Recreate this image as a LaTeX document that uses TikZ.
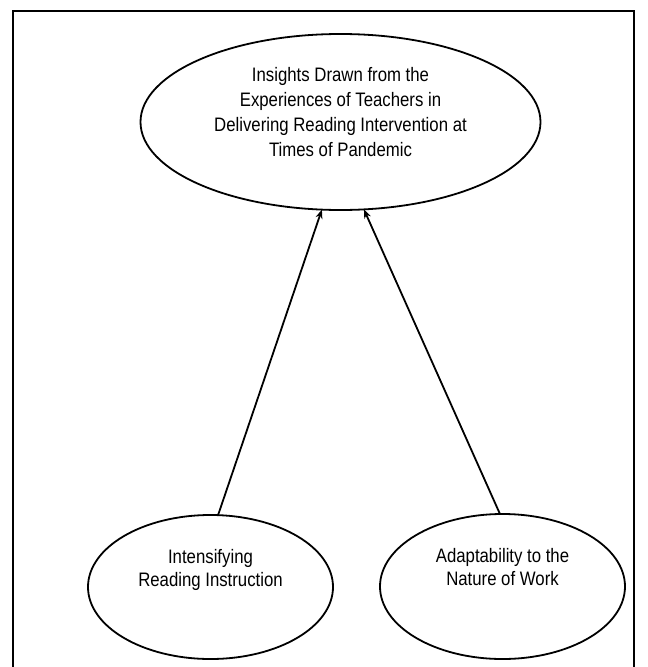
\documentclass[tikz,border=0pt]{standalone}
\usepackage{fontspec}
\setmainfont{Liberation Sans}[FakeStretch=0.86]
\usetikzlibrary{shapes.geometric,arrows.meta}
\begin{document}
\begin{tikzpicture}[x=1pt,y=-1pt,
  oval/.style={draw,ellipse,line width=1.8pt,inner sep=0pt,outer sep=0pt},
  lbl/.style={align=center,anchor=north,inner sep=0pt},
  link/.style={line width=1.8pt,-{Stealth[length=9pt,width=7pt]}}]
\useasboundingbox (0,0) rectangle (648,667);
\draw[line width=2.2pt] (13,668) -- (13,11) -- (634,11) -- (634,668);
\node[oval,minimum width=400pt,minimum height=176pt] (top) at (340.5,122) {};
\node[oval,minimum width=245pt,minimum height=144pt] (left) at (210.5,587) {};
\node[oval,minimum width=245pt,minimum height=145pt] (right) at (502.5,586.5) {};
\node[lbl,font=\fontsize{19.5}{25}\selectfont] (toptext) at (340.5,67.5) {Insights Drawn from the\\Experiences of Teachers in\\Delivering Reading Intervention at\\Times of Pandemic};
\node[lbl,font=\fontsize{19.5}{23.5}\selectfont] (lefttext) at (210.5,549) {Intensifying\\Reading Instruction};
\node[lbl,font=\fontsize{19.5}{23.5}\selectfont] (righttext) at (502.5,548) {Adaptability to the\\Nature of Work};
\draw[link] (left.84.8) -- (top.258.7);
\draw[link] (right.92) -- (top.285.6);
\end{tikzpicture}
\end{document}
